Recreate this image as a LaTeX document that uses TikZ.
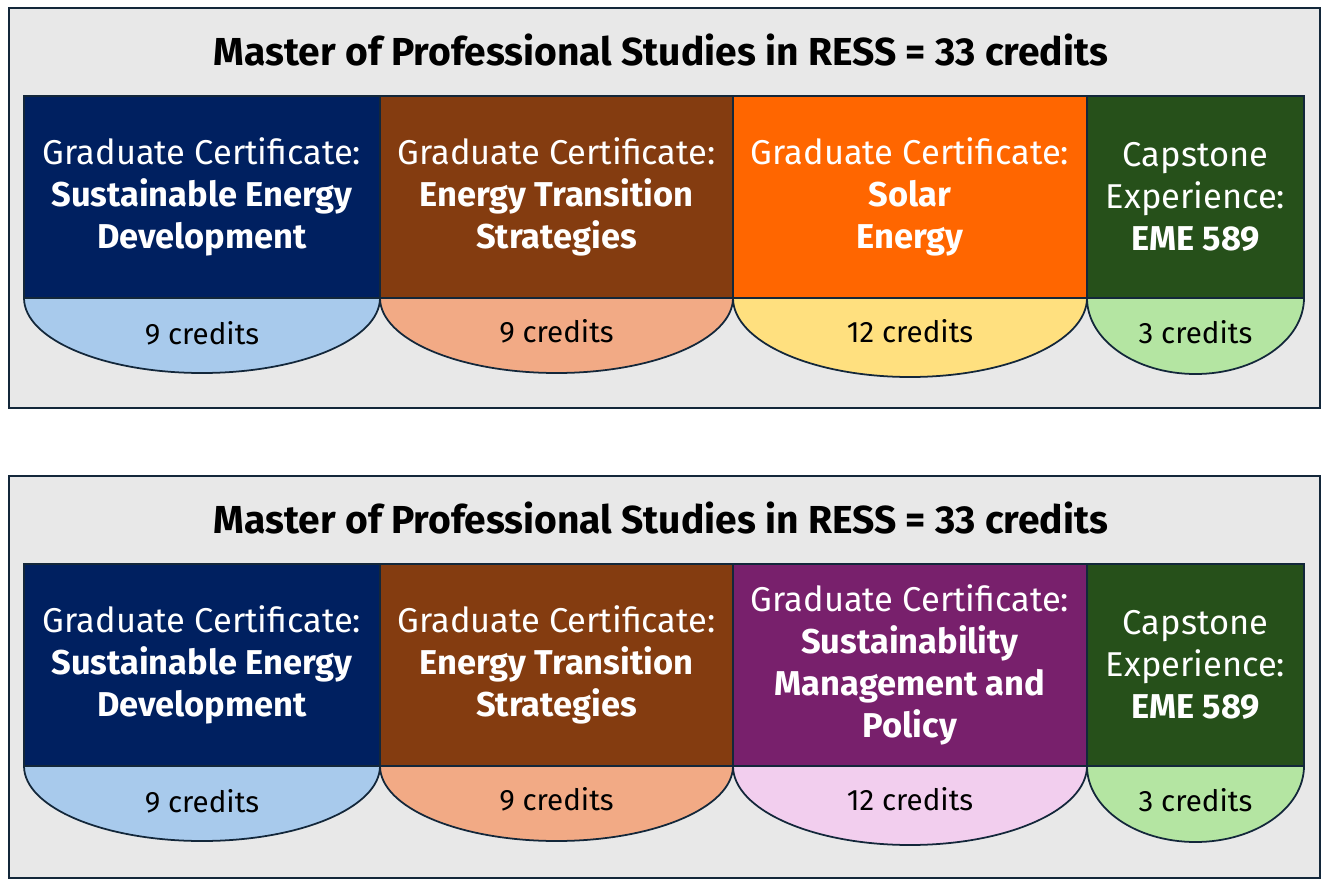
\documentclass[tikz,border=0pt]{standalone}
\usepackage{fontspec}
\setmainfont{Fira Sans}
\usetikzlibrary{positioning}
\definecolor{cadre}{HTML}{13273A}
\definecolor{fond}{HTML}{E8E8E8}
\definecolor{marine}{HTML}{002060}
\definecolor{brun}{HTML}{843C10}
\definecolor{orange}{HTML}{FF6600}
\definecolor{sapin}{HTML}{26501A}
\definecolor{prune}{HTML}{78206C}
\definecolor{bleuclair}{HTML}{A8CAEC}
\definecolor{saumon}{HTML}{F2AA85}
\definecolor{jaune}{HTML}{FFE07F}
\definecolor{vertclair}{HTML}{B4E5A2}
\definecolor{rose}{HTML}{F2CEEE}
\tikzset{
  panneau/.style={draw=cadre, fill=fond, line width=1.2pt},
  titre/.style={font=\fontsize{22.2}{26}\selectfont\bfseries},
  certif/.style={draw=cadre, line width=1pt, text=white, align=center, anchor=north west,
    inner sep=0pt, outer sep=0pt, minimum height=4.04cm, font=\fontsize{19.6}{23.9}\selectfont},
  demi/.style={draw=cadre, line width=1pt},
  credit/.style={font=\fontsize{16.8}{19}\selectfont},
}
\begin{document}
\begin{tikzpicture}
\useasboundingbox (0,0) rectangle (26.52,-17.66);
% panneau du haut
\draw[panneau] (0.18,-0.16) rectangle (26.40,-8.16);
\node[titre] (t1) at (13.22,-1.0) {Master of Professional Studies in RESS = 33 credits};
\node[certif, fill=marine, minimum width=7.12cm] (a1) at (0.48,-1.92)
  {Graduate Certificate:\\\textbf{Sustainable Energy}\\\textbf{Development}};
\node[certif, fill=brun, minimum width=7.06cm, right=0pt of a1] (a2)
  {Graduate Certificate:\\\textbf{Energy Transition}\\\textbf{Strategies}};
\node[certif, fill=orange, minimum width=7.08cm, right=0pt of a2] (a3)
  {Graduate Certificate:\\\textbf{Solar}\\\textbf{Energy}};
\node[certif, fill=sapin, minimum width=4.34cm, right=0pt of a3] (a4)
  {Capstone\\Experience:\\\textbf{EME 589}};
% demi-ellipses
\draw[demi, fill=bleuclair] (a1.south west) arc[start angle=180, end angle=360, x radius=3.56cm, y radius=1.50cm] -- cycle;
\draw[demi, fill=saumon] (a2.south west) arc[start angle=180, end angle=360, x radius=3.53cm, y radius=1.50cm] -- cycle;
\draw[demi, fill=jaune] (a3.south west) arc[start angle=180, end angle=360, x radius=3.54cm, y radius=1.58cm] -- cycle;
\draw[demi, fill=vertclair] (a4.south west) arc[start angle=180, end angle=360, x radius=2.17cm, y radius=1.52cm] -- cycle;
\node[credit] (c1) at ([yshift=-0.70cm]a1.south) {9 credits};
\node[credit] (c2) at ([yshift=-0.66cm]a2.south) {9 credits};
\node[credit] (c3) at ([yshift=-0.66cm]a3.south) {12 credits};
\node[credit] (c4) at ([yshift=-0.68cm]a4.south) {3 credits};

% panneau du bas
\draw[panneau] (0.18,-9.52) rectangle (26.40,-17.56);
\node[titre] (t2) at (13.22,-10.36) {Master of Professional Studies in RESS = 33 credits};
\node[certif, fill=marine, minimum width=7.12cm] (b1) at (0.48,-11.28)
  {Graduate Certificate:\\\textbf{Sustainable Energy}\\\textbf{Development}};
\node[certif, fill=brun, minimum width=7.06cm, right=0pt of b1] (b2)
  {Graduate Certificate:\\\textbf{Energy Transition}\\\textbf{Strategies}};
\node[certif, fill=prune, minimum width=7.08cm, right=0pt of b2] (b3)
  {Graduate Certificate:\\\textbf{Sustainability}\\\textbf{Management and}\\\textbf{Policy}};
\node[certif, fill=sapin, minimum width=4.34cm, right=0pt of b3] (b4)
  {Capstone\\Experience:\\\textbf{EME 589}};
\draw[demi, fill=bleuclair] (b1.south west) arc[start angle=180, end angle=360, x radius=3.56cm, y radius=1.50cm] -- cycle;
\draw[demi, fill=saumon] (b2.south west) arc[start angle=180, end angle=360, x radius=3.53cm, y radius=1.50cm] -- cycle;
\draw[demi, fill=rose] (b3.south west) arc[start angle=180, end angle=360, x radius=3.54cm, y radius=1.58cm] -- cycle;
\draw[demi, fill=vertclair] (b4.south west) arc[start angle=180, end angle=360, x radius=2.17cm, y radius=1.52cm] -- cycle;
\node[credit] (d1) at ([yshift=-0.70cm]b1.south) {9 credits};
\node[credit] (d2) at ([yshift=-0.66cm]b2.south) {9 credits};
\node[credit] (d3) at ([yshift=-0.66cm]b3.south) {12 credits};
\node[credit] (d4) at ([yshift=-0.68cm]b4.south) {3 credits};
\end{tikzpicture}
\end{document}
